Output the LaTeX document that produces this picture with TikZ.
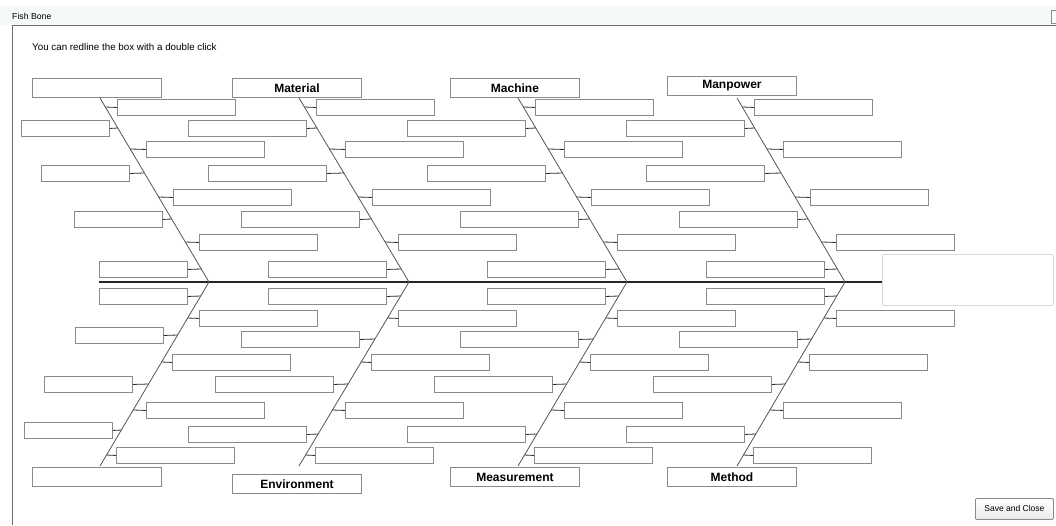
\documentclass[tikz,border=0pt]{standalone}
\usepackage{fontspec}
\setmainfont{Liberation Sans}
\definecolor{boxgray}{RGB}{138,138,138}
\definecolor{bonegray}{RGB}{85,85,85}
\definecolor{stubdark}{RGB}{45,45,45}
\definecolor{framegray}{RGB}{110,110,110}
\definecolor{titlebg}{RGB}{245,249,250}
\definecolor{panelgray}{RGB}{218,218,218}
\tikzset{
  box/.style={draw=boxgray, line width=0.9pt, fill=white, inner sep=0pt,
    minimum width=118pt, minimum height=16pt, anchor=north west},
  lbox/.style={box, anchor=north east},
  nbox/.style={draw=boxgray, line width=0.9pt, fill=white, inner sep=0pt,
    minimum width=88pt, minimum height=16pt, anchor=north west},
  catbox/.style={draw=boxgray, line width=0.9pt, fill=white, inner sep=0pt,
    minimum width=129pt, minimum height=19pt, anchor=north west,
    font=\fontsize{12}{14}\selectfont\bfseries},
  bone/.style={draw=bonegray, line width=0.8pt},
  stub/.style={draw=stubdark, line width=0.8pt},
  spine/.style={draw=black!85, line width=1.6pt}
}
\begin{document}
\begin{tikzpicture}[x=1pt,y=-1pt]
\useasboundingbox (0,0) rectangle (1056,525);
% window chrome
\fill[titlebg] (0,6) rectangle (1056,25);
\node[anchor=west, inner sep=0pt, font=\fontsize{8.7}{10}\selectfont] (title) at (12,16) {Fish Bone};
\draw[boxgray, line width=0.8pt, fill=white] (1051,10) rectangle (1060,23);
\draw[framegray, line width=1pt] (12,525) -- (12,25) -- (1056,25);
\node[anchor=west, inner sep=0pt, font=\fontsize{9.8}{11}\selectfont] (hint) at (32,47) {You can redline the box with a double click};

% spine
\coordinate (spL) at (99,282);
\coordinate (spR) at (882,282);
\draw[spine] (spL) -- (spR);

% result panel
\node[draw=panelgray, line width=0.8pt, rounded corners=1pt, fill=white, inner sep=0pt,
  minimum width=171pt, minimum height=51pt, anchor=north west] (result) at (882,254) {};

% bones and right-side boxes
\foreach \s/\X/\A in {1/100/209, 2/299/409, 3/518/627, 4/737/845}{
  \coordinate (t\s) at (\X,98);
  \coordinate (a\s) at (\A,282);
  \coordinate (b\s) at (\X,466);
  \draw[bone] (t\s) -- (a\s) -- (b\s);
  \foreach \i/\dx/\y in {1/17/99, 2/46/141, 3/73/189, 4/99/234}{
    \node[box] (s\s tR\i) at (\X+\dx,\y) {};
    \coordinate (s\s tR\i j) at ({\X+(\y+8-98)/184*(\A-\X)},\y+8);
    \draw[stub] (s\s tR\i.west) -- (s\s tR\i j);
  }
  \foreach \i/\dx/\y in {1/99/310, 2/72/354, 3/46/402, 4/16/447}{
    \node[box] (s\s bR\i) at (\X+\dx,\y) {};
    \coordinate (s\s bR\i j) at ({\X+(466-\y-8)/184*(\A-\X)},\y+8);
    \draw[stub] (s\s bR\i.west) -- (s\s bR\i j);
  }
}
% left-side boxes, segments 2-4
\foreach \s/\X/\A in {2/299/409, 3/518/627, 4/737/845}{
  \foreach \i/\dx/\y in {1/8/120, 2/28/165, 3/61/211, 4/88/261}{
    \node[lbox] (s\s tL\i) at (\X+\dx,\y) {};
    \coordinate (s\s tL\i j) at ({\X+(\y+8-98)/184*(\A-\X)},\y+8);
    \draw[stub] (s\s tL\i.east) -- (s\s tL\i j);
  }
  \foreach \i/\dx/\y in {1/88/288, 2/61/331, 3/35/376, 4/8/426}{
    \node[lbox] (s\s bL\i) at (\X+\dx,\y) {};
    \coordinate (s\s bL\i j) at ({\X+(466-\y-8)/184*(\A-\X)},\y+8);
    \draw[stub] (s\s bL\i.east) -- (s\s bL\i j);
  }
}
% left-side boxes, segment 1 (narrower)
\foreach \i/\x/\y in {1/21/120, 2/41/165, 3/74/211, 4/99/261}{
  \node[nbox] (s1tL\i) at (\x,\y) {};
  \coordinate (s1tL\i j) at ({100+(\y+8-98)/184*109},\y+8);
  \draw[stub] (s1tL\i.east) -- (s1tL\i j);
}
\foreach \i/\x/\y in {1/99/288, 2/75/327, 3/44/376, 4/24/422}{
  \node[nbox] (s1bL\i) at (\x,\y) {};
  \coordinate (s1bL\i j) at ({100+(466-\y-8)/184*109},\y+8);
  \draw[stub] (s1bL\i.east) -- (s1bL\i j);
}

% category boxes
\node[catbox] (head1) at (32,78) {};
\node[catbox] (material) at (232,78) {Material};
\node[catbox] (machine) at (450,78) {Machine};
\node[catbox] (manpower) at (667,76) {Manpower};
\node[catbox] (tail1) at (32,467) {};
\node[catbox] (environment) at (232,474) {Environment};
\node[catbox] (measurement) at (450,467) {Measurement};
\node[catbox] (method) at (667,467) {Method};

% button
\node[draw=boxgray, line width=0.8pt, top color=white, bottom color=black!8, rounded corners=1pt,
  inner sep=0pt, minimum width=78pt, minimum height=21pt, anchor=north west,
  font=\fontsize{8.5}{10}\selectfont] (save) at (975,498) {Save and Close};
\end{tikzpicture}
\end{document}
